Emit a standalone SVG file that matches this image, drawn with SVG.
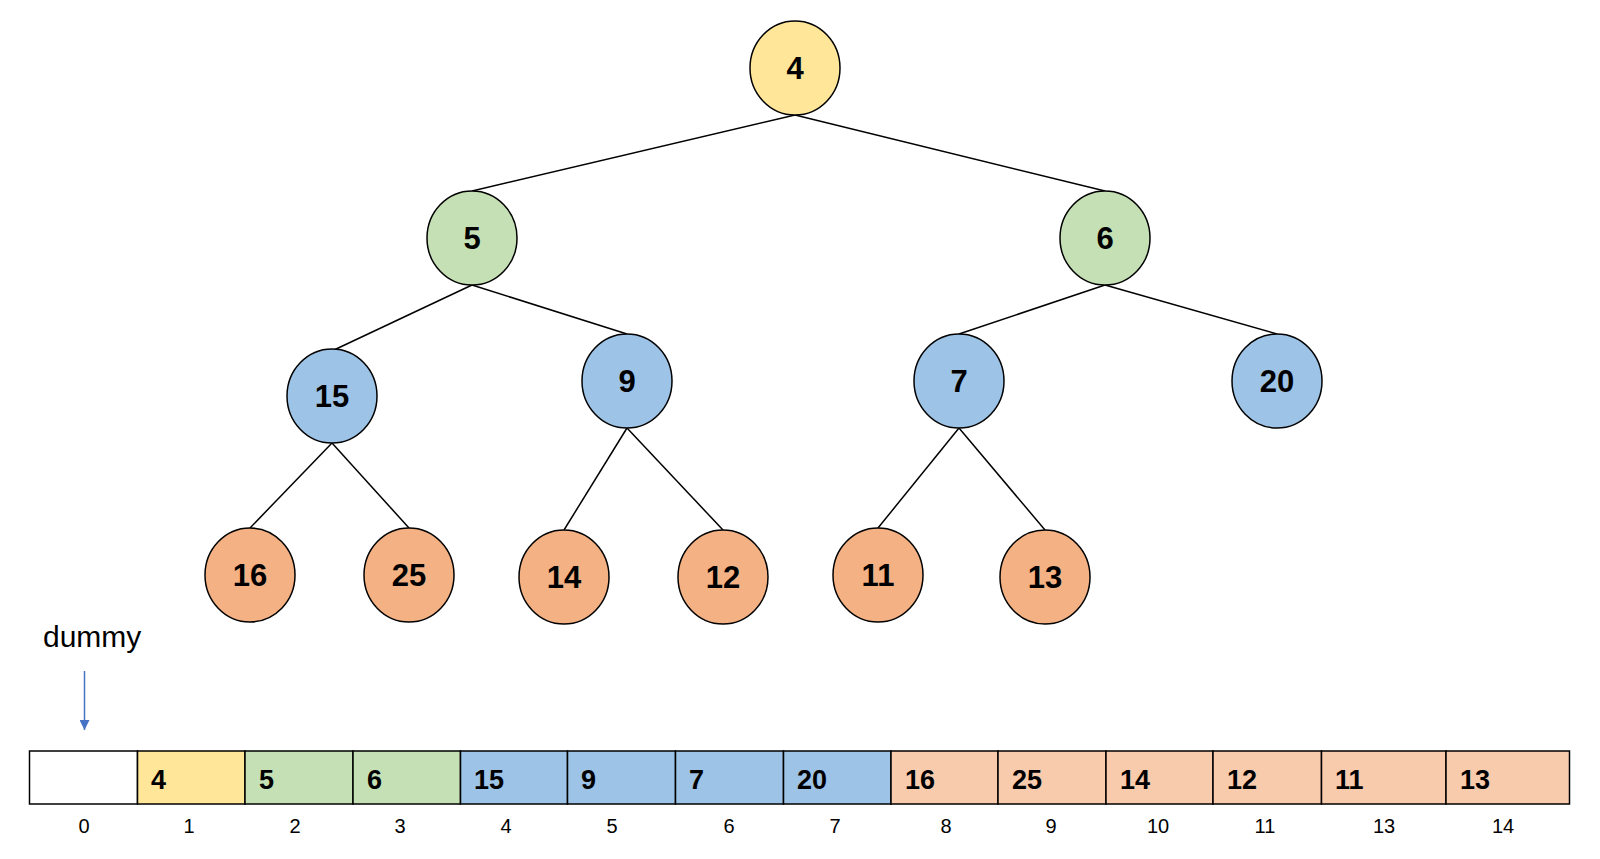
<svg xmlns="http://www.w3.org/2000/svg" width="1600" height="859" viewBox="0 0 1600 859">
<style>
.n{stroke:#000;stroke-width:1.5}
.y{fill:#FFE699}.g{fill:#C5E0B4}.b{fill:#9DC3E6}.o{fill:#F4B183}.p{fill:#F8CBAD}.w{fill:#fff}
.nt{font-family:"Liberation Sans",Arial,sans-serif;font-weight:bold;font-size:31px;text-anchor:middle;fill:#000}
.ct{font-family:"Liberation Sans",Arial,sans-serif;font-weight:bold;font-size:27px;fill:#000}
.it{font-family:"Liberation Sans",Arial,sans-serif;font-size:20px;text-anchor:middle;fill:#000}
.e{stroke:#000;stroke-width:1.5;fill:none}
</style>
<defs>
<marker id="ah" viewBox="0 0 10 10" refX="10" refY="5" markerWidth="10" markerHeight="10" markerUnits="userSpaceOnUse" orient="auto"><path d="M0,0 L10,5 L0,10 z" fill="#4472C4"/></marker>
</defs>
<g id="connectors">
<line class="e" x1="795" y1="115" x2="472" y2="191"/>
<line class="e" x1="795" y1="115" x2="1105" y2="191"/>
<line class="e" x1="472" y1="285" x2="334" y2="350"/>
<line class="e" x1="472" y1="285" x2="627" y2="334"/>
<line class="e" x1="1105" y1="285" x2="959" y2="334"/>
<line class="e" x1="1105" y1="285" x2="1277" y2="334"/>
<line class="e" x1="332" y1="443" x2="250" y2="528"/>
<line class="e" x1="332" y1="443" x2="409" y2="528"/>
<line class="e" x1="627" y1="428" x2="564" y2="530"/>
<line class="e" x1="627" y1="428" x2="723" y2="530"/>
<line class="e" x1="959" y1="428" x2="878" y2="528"/>
<line class="e" x1="959" y1="428" x2="1045" y2="530"/>
</g>
<g id="node-4"><ellipse class="n y" cx="795" cy="68" rx="45" ry="47"/><text class="nt" x="795" y="79">4</text></g>
<g id="node-5"><ellipse class="n g" cx="472" cy="238" rx="45" ry="47"/><text class="nt" x="472" y="249">5</text></g>
<g id="node-6"><ellipse class="n g" cx="1105" cy="238" rx="45" ry="47"/><text class="nt" x="1105" y="249">6</text></g>
<g id="node-15"><ellipse class="n b" cx="332" cy="396" rx="45" ry="47"/><text class="nt" x="332" y="407">15</text></g>
<g id="node-9"><ellipse class="n b" cx="627" cy="381" rx="45" ry="47"/><text class="nt" x="627" y="392">9</text></g>
<g id="node-7"><ellipse class="n b" cx="959" cy="381" rx="45" ry="47"/><text class="nt" x="959" y="392">7</text></g>
<g id="node-20"><ellipse class="n b" cx="1277" cy="381" rx="45" ry="47"/><text class="nt" x="1277" y="392">20</text></g>
<g id="node-16"><ellipse class="n o" cx="250" cy="575" rx="45" ry="47"/><text class="nt" x="250" y="586">16</text></g>
<g id="node-25"><ellipse class="n o" cx="409" cy="575" rx="45" ry="47"/><text class="nt" x="409" y="586">25</text></g>
<g id="node-14"><ellipse class="n o" cx="564" cy="577" rx="45" ry="47"/><text class="nt" x="564" y="588">14</text></g>
<g id="node-12"><ellipse class="n o" cx="723" cy="577" rx="45" ry="47"/><text class="nt" x="723" y="588">12</text></g>
<g id="node-11"><ellipse class="n o" cx="878" cy="575" rx="45" ry="47"/><text class="nt" x="878" y="586">11</text></g>
<g id="node-13"><ellipse class="n o" cx="1045" cy="577" rx="45" ry="47"/><text class="nt" x="1045" y="588">13</text></g>
<g id="dummy">
<text x="43" y="647" style="font-family:'Liberation Sans',Arial,sans-serif;font-size:30px;fill:#000">dummy</text>
<line x1="84.5" y1="671" x2="84.5" y2="730" stroke="#4472C4" stroke-width="1.5" marker-end="url(#ah)"/>
</g>
<g id="array">
<rect class="n w" x="29.5" y="751" width="108" height="53"/>
<rect class="n y" x="137.5" y="751" width="107.5" height="53"/>
<rect class="n g" x="245" y="751" width="108" height="53"/>
<rect class="n g" x="353" y="751" width="107.5" height="53"/>
<rect class="n b" x="460.5" y="751" width="107" height="53"/>
<rect class="n b" x="567.5" y="751" width="108" height="53"/>
<rect class="n b" x="675.5" y="751" width="108" height="53"/>
<rect class="n b" x="783.5" y="751" width="107.5" height="53"/>
<rect class="n p" x="891" y="751" width="107" height="53"/>
<rect class="n p" x="998" y="751" width="108" height="53"/>
<rect class="n p" x="1106" y="751" width="107" height="53"/>
<rect class="n p" x="1213" y="751" width="108.5" height="53"/>
<rect class="n p" x="1321.5" y="751" width="124.5" height="53"/>
<rect class="n p" x="1446" y="751" width="123.5" height="53"/>
<text class="ct" x="151" y="789">4</text>
<text class="ct" x="259" y="789">5</text>
<text class="ct" x="367" y="789">6</text>
<text class="ct" x="474" y="789">15</text>
<text class="ct" x="581" y="789">9</text>
<text class="ct" x="689" y="789">7</text>
<text class="ct" x="797" y="789">20</text>
<text class="ct" x="905" y="789">16</text>
<text class="ct" x="1012" y="789">25</text>
<text class="ct" x="1120" y="789">14</text>
<text class="ct" x="1227" y="789">12</text>
<text class="ct" x="1335" y="789">11</text>
<text class="ct" x="1460" y="789">13</text>
<text class="it" x="84" y="833">0</text>
<text class="it" x="189" y="833">1</text>
<text class="it" x="295" y="833">2</text>
<text class="it" x="400" y="833">3</text>
<text class="it" x="506" y="833">4</text>
<text class="it" x="612" y="833">5</text>
<text class="it" x="729" y="833">6</text>
<text class="it" x="835" y="833">7</text>
<text class="it" x="946" y="833">8</text>
<text class="it" x="1051" y="833">9</text>
<text class="it" x="1158" y="833">10</text>
<text class="it" x="1265" y="833">11</text>
<text class="it" x="1384" y="833">13</text>
<text class="it" x="1503" y="833">14</text>
</g>
</svg>
